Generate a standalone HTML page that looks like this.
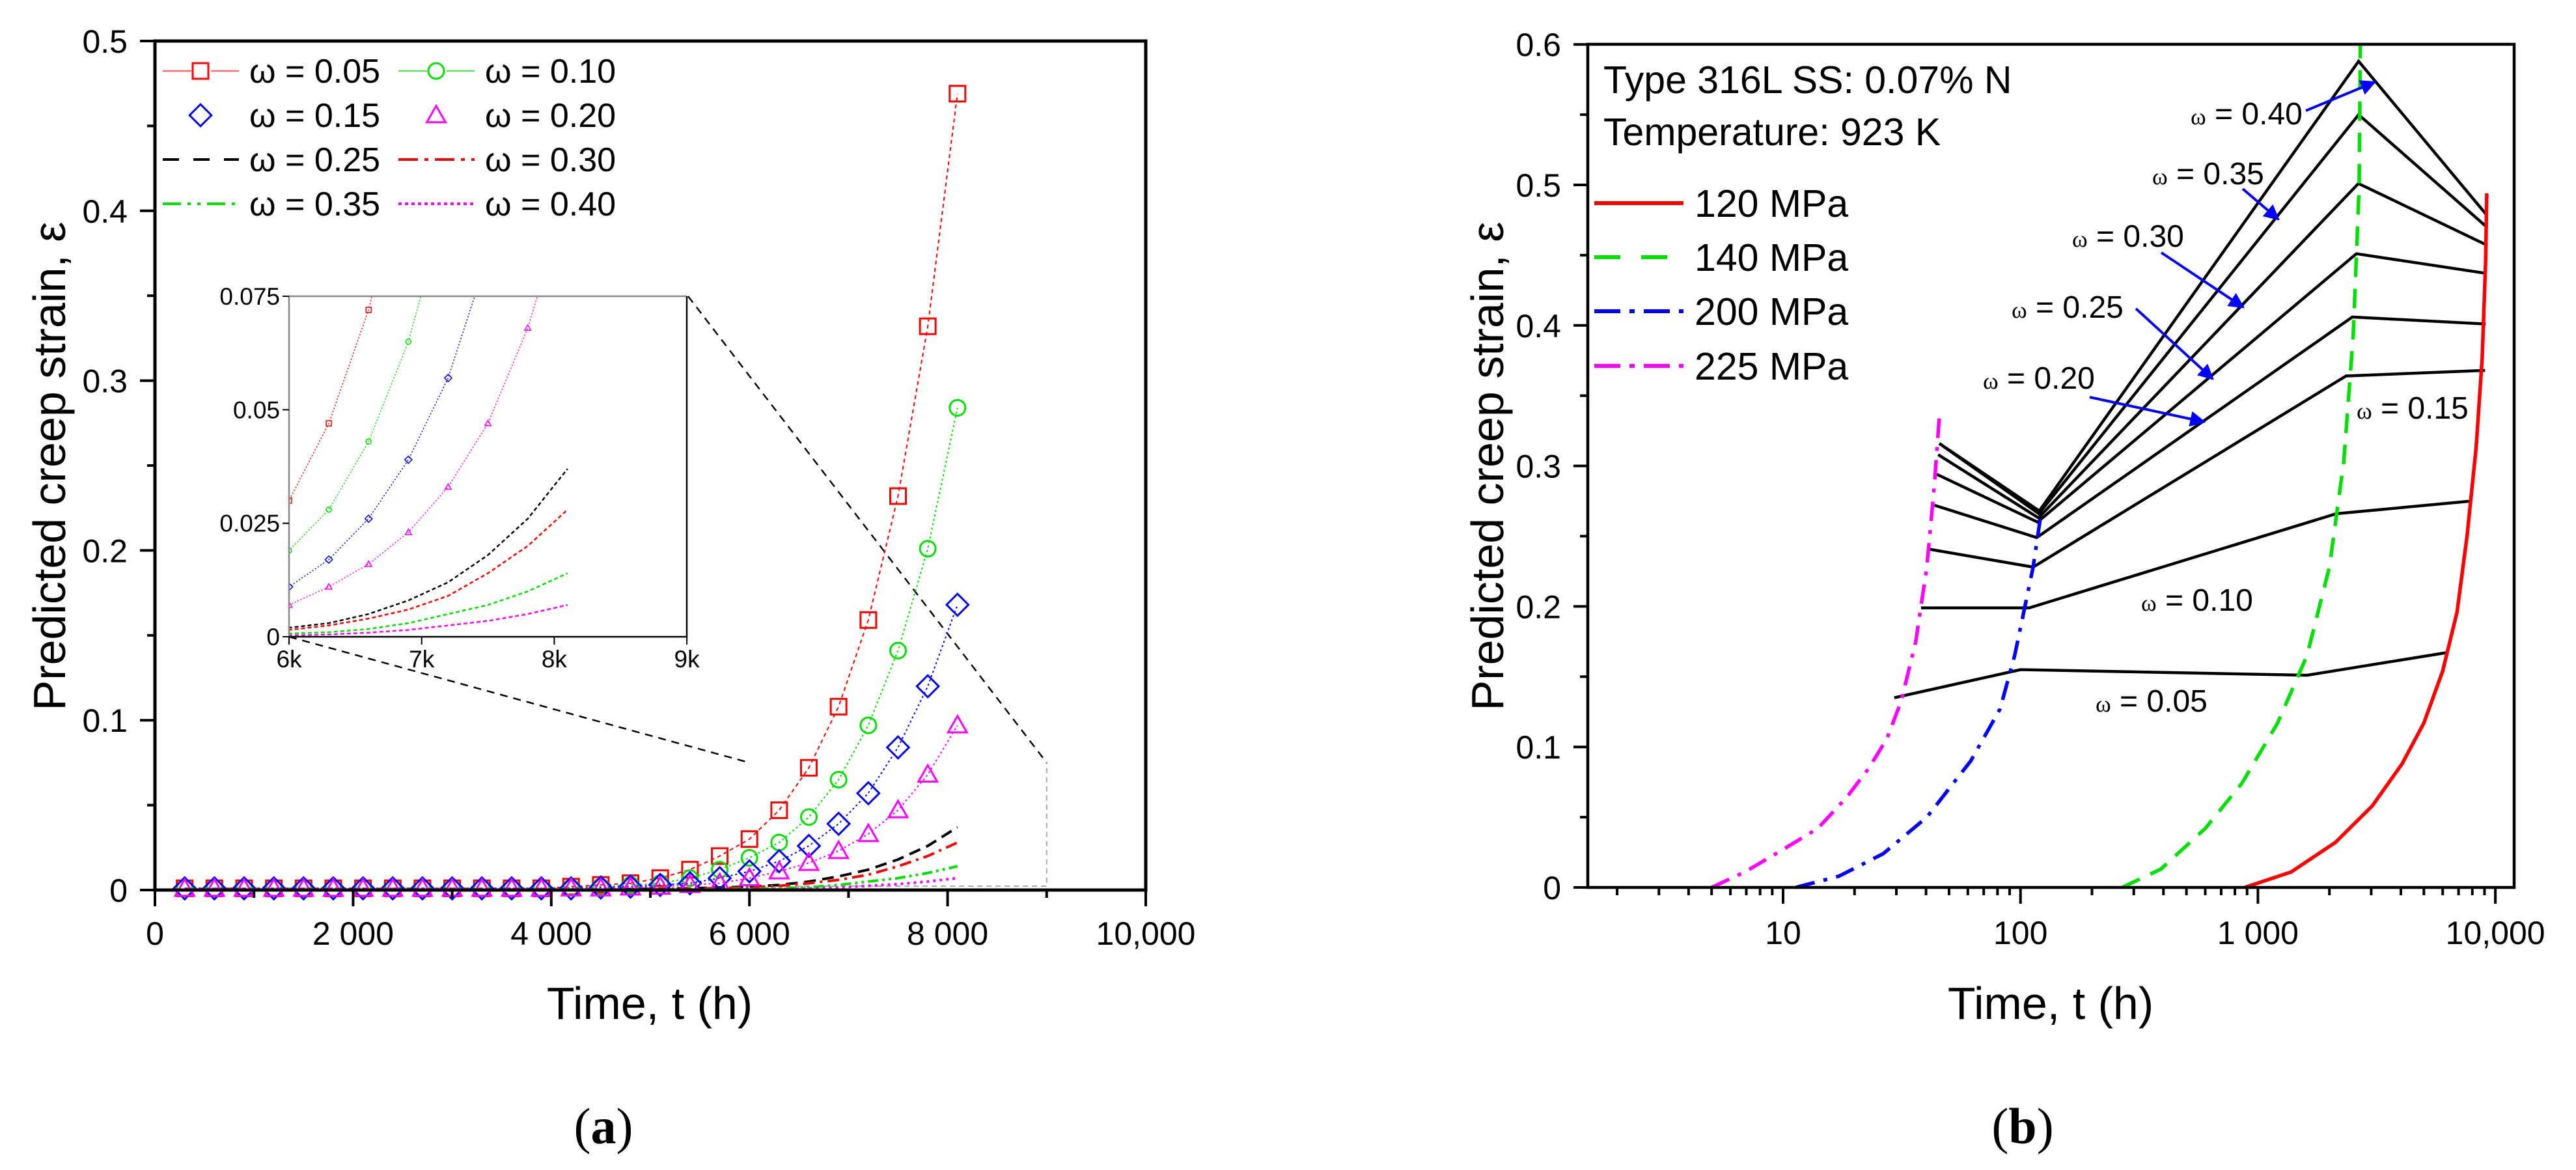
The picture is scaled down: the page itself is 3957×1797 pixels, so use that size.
<!DOCTYPE html>
<html><head><meta charset="utf-8"><style>
html,body{margin:0;padding:0;background:#fff;}
svg{display:block;font-family:"Liberation Sans",sans-serif;}
</style></head><body>
<svg id="fig" width="3957" height="1797" viewBox="0 0 3957 1797" xmlns="http://www.w3.org/2000/svg">
<rect x="0" y="0" width="3957" height="1797" fill="#fff"/>
<g id="pa"></g>
<g id="pb"></g>
<text x="100" y="716" font-size="70" text-anchor="middle" transform="rotate(-90 100 716)">Predicted creep strain, ε</text>
<text x="998" y="1565" font-size="70" text-anchor="middle">Time, t (h)</text>
<text x="927" y="1756" font-size="78" text-anchor="middle" font-family="Liberation Serif, serif">(<tspan font-weight="bold">a</tspan>)</text>
<text x="2309" y="716" font-size="70" text-anchor="middle" transform="rotate(-90 2309 716)">Predicted creep strain, ε</text>
<text x="3150" y="1565" font-size="70" text-anchor="middle">Time, t (h)</text>
<text x="3107" y="1756" font-size="78" text-anchor="middle" font-family="Liberation Serif, serif">(<tspan font-weight="bold">b</tspan>)</text>
<text x="2463" y="143" font-size="59">Type 316L SS: 0.07% N</text>
<text x="2463" y="223" font-size="59">Temperature: 923 K</text>
</svg>
<script>
// ---------- Panel (a) data ----------
const timesA = [300,600,900,1200,1500,1800,2100,2400,2700,3000,3300,3600,3900,4200,4500,4800,5100,5400,5700,6000,6300,6600,6900,7200,7500,7800,8100];
const w005 = [0.001,0.001,0.001,0.001,0.001,0.001,0.001,0.001,0.001,0.001,0.001,0.001,0.001,0.002,0.003,0.004,0.007,0.012,0.020,0.030,0.047,0.072,0.108,0.159,0.232,0.332,0.469];
const w010 = [0.001,0.001,0.001,0.001,0.001,0.001,0.001,0.001,0.001,0.001,0.001,0.001,0.001,0.0015,0.002,0.003,0.004,0.007,0.012,0.019,0.028,0.043,0.065,0.097,0.141,0.201,0.284];
const w015 = [0.001,0.001,0.001,0.001,0.001,0.001,0.001,0.001,0.001,0.001,0.001,0.001,0.001,0.001,0.0015,0.002,0.003,0.004,0.007,0.011,0.017,0.026,0.039,0.057,0.084,0.120,0.168];
const w020 = [0.0008,0.0008,0.0008,0.0008,0.0008,0.0008,0.0008,0.0008,0.0008,0.0008,0.0008,0.0008,0.0008,0.001,0.001,0.0015,0.002,0.003,0.004,0.007,0.011,0.016,0.023,0.033,0.047,0.068,0.097];
const timesLine = [300,3000,4500,5400,6000,6300,6600,6900,7200,7500,7800,8100];
const w025 = [0,0,0.0003,0.001,0.002,0.003,0.005,0.008,0.012,0.018,0.026,0.037];
const w030 = [0,0,0.0002,0.0008,0.0015,0.0025,0.004,0.006,0.009,0.014,0.020,0.028];
const w035 = [0,0,0.0001,0.0003,0.0007,0.001,0.0017,0.003,0.005,0.007,0.010,0.014];
const w040 = [0,0,0,0.0001,0.0003,0.0005,0.0009,0.0015,0.0025,0.0035,0.005,0.007];
const xTicksA = [0,2000,4000,6000,8000,10000];
const xTickLabelsA = ["0","2 000","4 000","6 000","8 000","10,000"];
const yTicksA = [0,0.1,0.2,0.3,0.4,0.5];
const yTickLabelsA = ["0","0.1","0.2","0.3","0.4","0.5"];
const insetXTicks = [6000,7000,8000,9000];
const insetXLabels = ["6k","7k","8k","9k"];
const insetYTicks = [0,0.025,0.05,0.075];
const insetYLabels = ["0","0.025","0.05","0.075"];

// ---------- Panel (b) data ----------
const t120 = [880,1380,2120,3030,4050,5000,6000,6900,7600,8300,8800,9100,9200];
const e120 = [0,0.011,0.032,0.058,0.088,0.117,0.154,0.196,0.250,0.313,0.377,0.446,0.494];
const t140 = [268,390,600,855,1210,1610,2000,2300,2520,2670,2700];
const e140 = [0,0.013,0.042,0.074,0.117,0.165,0.228,0.303,0.393,0.499,0.600];
const t200 = [11.3,17.2,26.4,40.3,61.7,82,94.5,105,113,121];
const e200 = [0,0.008,0.024,0.050,0.090,0.127,0.165,0.202,0.228,0.262];
const t225 = [5.0,6.9,10,14,18.5,23,27.4,31.5,36.2,40.3,43.4,45.5];
const e225 = [0,0.011,0.027,0.042,0.064,0.085,0.106,0.133,0.175,0.228,0.287,0.335];
const omegaLabels = ["0.05","0.10","0.15","0.20","0.25","0.30","0.35","0.40"];
const omegaT = [[29.4,100,1610,6180],[38.1,108.8,2140,7950],[40.3,113,2350,9050],[43.4,117,2500,9100],[44.4,118,2600,9200],[45,119,2650,9250],[45.5,119.5,2655,9200],[45.5,120,2655,9150]];
const omegaE = [[0.135,0.155,0.151,0.167],[0.199,0.199,0.266,0.275],[0.241,0.228,0.364,0.368],[0.272,0.249,0.406,0.401],[0.294,0.260,0.451,0.437],[0.308,0.263,0.501,0.457],[0.316,0.266,0.550,0.470],[0.316,0.268,0.588,0.479]];
const yTicksB = [0,0.1,0.2,0.3,0.4,0.5,0.6];
const yTickLabelsB = ["0","0.1","0.2","0.3","0.4","0.5","0.6"];
const xTicksB = [10,100,1000,10000];
const xTickLabelsB = ["10","100","1 000","10,000"];

// ---------- scales ----------
const xa = t => 238 + t*0.1522;
const ya = v => 1367 - v*2608;
const xi = t => 444 + (t-6000)*0.2037;
const yi = v => 978 - v*6973;
const xb = t => 2739 + (Math.log10(t)-1)*364.7;
const yb = v => 1363 - v*2158;

const NS = "http://www.w3.org/2000/svg";
function mk(parent, tag, attrs){
  const el = document.createElementNS(NS, tag);
  for (const k in attrs) el.setAttribute(k, attrs[k]);
  parent.appendChild(el);
  return el;
}
const pa = document.getElementById('pa');
const pb = document.getElementById('pb');

function pathD(xs, ys, fx, fy){
  return xs.map((t,i)=>(i?'L':'M')+fx(t).toFixed(1)+' '+fy(ys[i]).toFixed(1)).join(' ');
}
function marker(parent, kind, cx, cy, s, color, sw){
  let el;
  if (kind==='square') el = mk(parent,'rect',{x:cx-s/2,y:cy-s/2,width:s,height:s,fill:'none',stroke:color,'stroke-width':sw});
  else if (kind==='circle') el = mk(parent,'circle',{cx:cx,cy:cy,r:s/2,fill:'none',stroke:color,'stroke-width':sw});
  else if (kind==='diamond') el = mk(parent,'path',{d:`M${cx} ${cy-s*0.7}L${cx+s*0.7} ${cy}L${cx} ${cy+s*0.7}L${cx-s*0.7} ${cy}Z`,fill:'none',stroke:color,'stroke-width':sw});
  else el = mk(parent,'path',{d:`M${cx} ${cy-s*0.6}L${cx+s*0.6} ${cy+s*0.45}L${cx-s*0.6} ${cy+s*0.45}Z`,fill:'none',stroke:color,'stroke-width':sw});
  return el;
}

// ---------- Panel (a) ----------
const markerSeries = [
  {v:w005,c:'#ff0000',k:'square',dash:'6 5',n:'omega-0-05'},
  {v:w010,c:'#00e000',k:'circle',dash:'3 4',n:'omega-0-10'},
  {v:w015,c:'#0000ff',k:'diamond',dash:'3 4',n:'omega-0-15'},
  {v:w020,c:'#ff00ff',k:'triangle',dash:'3 4',n:'omega-0-20'}
];
const lineSeries = [
  {v:w025,c:'#000000',dash:'18 10',n:'omega-0-25'},
  {v:w030,c:'#ff0000',dash:'18 8 4 8',n:'omega-0-30'},
  {v:w035,c:'#00e000',dash:'16 6 4 6 4 6',n:'omega-0-35'},
  {v:w040,c:'#ff00ff',dash:'4 6',n:'omega-0-40'}
];
// zoom region + connectors
let el;
el = mk(pa,'path',{d:`M${xa(6000)} ${ya(0)-6}L${xa(9000)} ${ya(0)-6}L${xa(9000)} ${ya(0.075)}`,fill:'none',stroke:'#aaa','stroke-width':2,'stroke-dasharray':'8 6'});


el = mk(pa,'line',{x1:1057,y1:455,x2:xa(9000),y2:ya(0.075),stroke:'#000','stroke-width':2.5,'stroke-dasharray':'12 9'});


el = mk(pa,'line',{x1:444,y1:978,x2:xa(6000),y2:ya(0.075),stroke:'#000','stroke-width':2.5,'stroke-dasharray':'12 9'});



lineSeries.forEach(s=>{
  const p = mk(pa,'path',{d:pathD(timesLine,s.v,xa,ya),fill:'none',stroke:s.c,'stroke-width':4,'stroke-dasharray':s.dash});
  
  
});
markerSeries.forEach(s=>{
  const p = mk(pa,'path',{d:pathD(timesA,s.v,xa,ya),fill:'none',stroke:s.c,'stroke-width':2,'stroke-dasharray':s.dash});
  
  
  timesA.forEach((t,i)=>{
    const m = marker(pa,s.k,xa(t),ya(s.v[i]),24,s.c,3);
    
    
  });
});
// axes a
el = mk(pa,'rect',{x:238,y:63,width:1522,height:1304,fill:'none',stroke:'#000','stroke-width':5});


for (let t=0;t<=10000;t+=1000){
  const major = t%2000===0;
  const tk = mk(pa,'line',{x1:xa(t),y1:1367,x2:xa(t),y2:1367+(major?25:12),stroke:'#000','stroke-width':4});
  
  
}
xTicksA.forEach((t,i)=>{
  const tx = mk(pa,'text',{x:xa(t),y:1451,'font-size':50,'text-anchor':'middle'});
  tx.textContent = xTickLabelsA[i];
  
  
});
for (let k=0;k<=10;k++){
  const v=k*0.05, major=k%2===0;
  const tk = mk(pa,'line',{x1:238-(major?23:12),y1:ya(v),x2:238,y2:ya(v),stroke:'#000','stroke-width':4});
  
  
}
yTicksA.forEach((v,i)=>{
  const tx = mk(pa,'text',{x:196,y:ya(v)+18,'font-size':50,'text-anchor':'end'});
  tx.textContent = yTickLabelsA[i];
  
  
});
// legend a
const legA = mk(pa,'g',{});


const legEntries = [
  {x:250,y:109,c:'#ff0000',k:'square',line:true,dash:'',lab:'ω = 0.05'},
  {x:612,y:109,c:'#00e000',k:'circle',line:true,dash:'',lab:'ω = 0.10'},
  {x:250,y:177,c:'#0000ff',k:'diamond',line:false,lab:'ω = 0.15'},
  {x:612,y:177,c:'#ff00ff',k:'triangle',line:false,lab:'ω = 0.20'},
  {x:250,y:245,c:'#000',line:true,dash:'25 22',lab:'ω = 0.25',w:4},
  {x:612,y:245,c:'#ff0000',line:true,dash:'30 10 6 10',lab:'ω = 0.30',w:4},
  {x:250,y:313,c:'#00e000',line:true,dash:'28 10 5 10 5 10',lab:'ω = 0.35',w:4},
  {x:612,y:313,c:'#ff00ff',line:true,dash:'5 5',lab:'ω = 0.40',w:4}
];
legEntries.forEach(e=>{
  const g = mk(legA,'g',{});
  
  
  if (e.line){
    const ln = mk(g,'line',{x1:e.x,y1:e.y,x2:e.x+117,y2:e.y,stroke:e.k?(e.c==='#ff0000'?'#ff7070':'#60e060'):e.c,'stroke-width':e.w||2.5,'stroke-dasharray':e.dash||'none'});
    
    
  }
  if (e.k){
    if (e.line){ mk(g,'rect',{x:e.x+44,y:e.y-16,width:30,height:32,fill:'#fff'}); }
    const m = marker(g,e.k,e.x+58,e.y,24,e.c,3);
    
    
  }
  const tx = mk(g,'text',{x:e.x+133,y:e.y+18,'font-size':52});
  tx.textContent = e.lab;
  
  
});

// inset
const ins = mk(pa,'g',{});


mk(ins,'rect',{x:444,y:455,width:611,height:523,fill:'#fff'});
const defs = mk(ins,'defs',{});
const cp = mk(defs,'clipPath',{id:'insclip'});
mk(cp,'rect',{x:444,y:455,width:611,height:523});
const insData = mk(ins,'g',{'clip-path':'url(#insclip)'});
lineSeries.forEach(s=>{
  const p = mk(insData,'path',{d:pathD(timesLine,s.v,xi,yi),fill:'none',stroke:s.c,'stroke-width':2.5,'stroke-dasharray':'6 4'});
  
  
});
markerSeries.forEach(s=>{
  const p = mk(insData,'path',{d:pathD(timesA,s.v,xi,yi),fill:'none',stroke:s.c,'stroke-width':1.5,'stroke-dasharray':'2 3'});
  
  
  timesA.forEach((t,i)=>{
    if (t<6000) return;
    const m = marker(insData,s.k,xi(t),yi(s.v[i]),8,s.c,1.5);
    
    
  });
});
el = mk(ins,'path',{d:'M444 978L444 455L1055 455',fill:'none',stroke:'#888','stroke-width':2.5});


el = mk(ins,'path',{d:'M444 978L1055 978L1055 455',fill:'none',stroke:'#000','stroke-width':2.5});


insetXTicks.forEach((t,i)=>{
  const tk = mk(ins,'line',{x1:xi(t),y1:978,x2:xi(t),y2:990,stroke:'#000','stroke-width':2});
  
  
  const tx = mk(ins,'text',{x:xi(t),y:1025,'font-size':37,'text-anchor':'middle'});
  tx.textContent = insetXLabels[i];
  
  
});
insetYTicks.forEach((v,i)=>{
  const tk = mk(ins,'line',{x1:434,y1:yi(v),x2:444,y2:yi(v),stroke:'#000','stroke-width':2});
  
  
  const tx = mk(ins,'text',{x:430,y:yi(v)+13,'font-size':37,'text-anchor':'end'});
  tx.textContent = insetYLabels[i];
  
  
});

// ---------- Panel (b) ----------
const curvesB = [
  {t:t225,e:e225,c:'#ff00ff',dash:'30 14 6 14',n:'curve-225-mpa'},
  {t:t200,e:e200,c:'#0000ff',dash:'30 14 6 14',n:'curve-200-mpa'},
  {t:t140,e:e140,c:'#00e000',dash:'30 18',n:'curve-140-mpa'},
  {t:t120,e:e120,c:'#ff0000',dash:'none',n:'curve-120-mpa'}
];
omegaT.forEach((ts,i)=>{
  const p = mk(pb,'path',{d:pathD(ts,omegaE[i],xb,yb),fill:'none',stroke:'#000','stroke-width':4.5,'stroke-linejoin':'miter'});
  
  
});
curvesB.forEach(s=>{
  const p = mk(pb,'path',{d:pathD(s.t,s.e,xb,yb),fill:'none',stroke:s.c,'stroke-width':5.5,'stroke-dasharray':s.dash});
  
  
});
el = mk(pb,'rect',{x:2439,y:68,width:1423,height:1295,fill:'none',stroke:'#000','stroke-width':4.5});


for (let d=0; d<4; d++){
  for (let m=1; m<=9; m++){
    const t = m*Math.pow(10,d);
    if (t<1.6 || t>11000) continue;
    const major = m===1 && d>0;
    const tk = mk(pb,'line',{x1:xb(t),y1:1363,x2:xb(t),y2:1363+(major?25:12),stroke:'#000','stroke-width':4});
    
    
  }
}
el = mk(pb,'line',{x1:xb(10000),y1:1363,x2:xb(10000),y2:1388,stroke:'#000','stroke-width':4});


xTicksB.forEach((t,i)=>{
  const tx = mk(pb,'text',{x:xb(t),y:1450,'font-size':50,'text-anchor':'middle'});
  tx.textContent = xTickLabelsB[i];
  
  
});
for (let k=0;k<=12;k++){
  const v=k*0.05, major=k%2===0;
  const tk = mk(pb,'line',{x1:2439-(major?22:12),y1:yb(v),x2:2439,y2:yb(v),stroke:'#000','stroke-width':4});
  
  
}
yTicksB.forEach((v,i)=>{
  const tx = mk(pb,'text',{x:2398,y:yb(v)+18,'font-size':50,'text-anchor':'end'});
  tx.textContent = yTickLabelsB[i];
  
  
});
// legend b
const legB = mk(pb,'g',{});


const legBEntries = [
  {y:312,c:'#ff0000',dash:'none',lab:'120 MPa'},
  {y:395,c:'#00e000',dash:'40 32',lab:'140 MPa'},
  {y:478,c:'#0000ff',dash:'40 14 8 14',lab:'200 MPa'},
  {y:562,c:'#ff00ff',dash:'40 14 8 14',lab:'225 MPa'}
];
legBEntries.forEach(e=>{
  const g = mk(legB,'g',{});
  
  
  const ln = mk(g,'line',{x1:2449,y1:e.y,x2:2586,y2:e.y,stroke:e.c,'stroke-width':6,'stroke-dasharray':e.dash});
  
  
  const tx = mk(g,'text',{x:2603,y:e.y+21,'font-size':59});
  tx.textContent = e.lab;
  
  
});
// omega annotations
const annos = [
  {x:3365,y:191,lab:'0.40',a:[3542,170,3648,126]},
  {x:3306,y:283,lab:'0.35',a:[3445,290,3500,337]},
  {x:3183,y:379,lab:'0.30',a:[3320,388,3446,472]},
  {x:3090,y:488,lab:'0.25',a:[3281,474,3399,582]},
  {x:3046,y:597,lab:'0.20',a:[3210,610,3386,648]},
  {x:3620,y:643,lab:'0.15'},
  {x:3289,y:938,lab:'0.10'},
  {x:3219,y:1093,lab:'0.05'}
];
mk(defs,'marker',{id:'arr',viewBox:'0 0 10 10',refX:9,refY:5,markerWidth:7,markerHeight:6,orient:'auto',markerUnits:'strokeWidth'});
mk(document.getElementById('arr'),'path',{d:'M0 0L10 5L0 10Z',fill:'#0000ff'});
annos.forEach(a=>{
  const tx = mk(pb,'text',{x:a.x,y:a.y,'font-size':48});
  const s1 = mk(tx,'tspan',{'font-family':'Liberation Serif, serif','font-size':36});
  s1.textContent = 'ω';
  const s2 = mk(tx,'tspan',{});
  s2.textContent = ' = '+a.lab;
  
  
  if (a.a){
    const ar = mk(pb,'line',{x1:a.a[0],y1:a.a[1],x2:a.a[2],y2:a.a[3],stroke:'#0000ff','stroke-width':4,'marker-end':'url(#arr)'});
    
    
  }
});
</script>
</body></html>
